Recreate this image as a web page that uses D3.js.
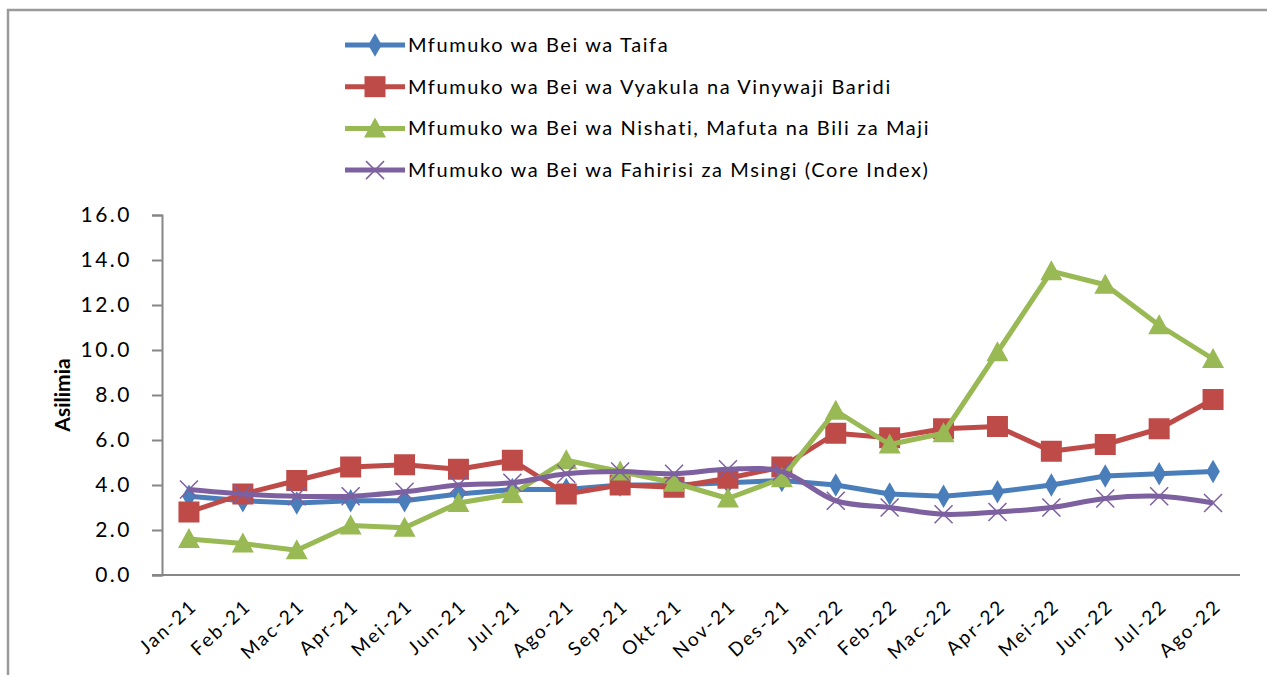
<html>
<head>
<meta charset="utf-8">
<script src="https://d3js.org/d3.v7.min.js"></script>
<style>
  body { margin: 0; background: #fff; }
  text { font-family: Lato, "Open Sans", sans-serif; fill: #000; }
</style>
</head>
<body>
<div id="chart"></div>
<script>
// months on the x axis
var months = ["Jan-21","Feb-21","Mac-21","Apr-21","Mei-21","Jun-21","Jul-21","Ago-21","Sep-21","Okt-21","Nov-21","Des-21",
              "Jan-22","Feb-22","Mac-22","Apr-22","Mei-22","Jun-22","Jul-22","Ago-22"];

// series values (percent)
var taifa   = [3.5,3.3,3.2,3.3,3.3,3.6,3.8,3.8,4.0,4.0,4.1,4.2,4.0,3.6,3.5,3.7,4.0,4.4,4.5,4.6];
var vyakula = [2.8,3.6,4.2,4.8,4.9,4.7,5.1,3.6,4.0,3.9,4.3,4.8,6.3,6.1,6.5,6.6,5.5,5.8,6.5,7.8];
var nishati = [1.6,1.4,1.1,2.2,2.1,3.2,3.6,5.1,4.6,4.1,3.4,4.3,7.3,5.8,6.3,9.9,13.5,12.9,11.1,9.6];
var core    = [3.8,3.6,3.5,3.5,3.7,4.0,4.1,4.5,4.6,4.5,4.7,4.6,3.3,3.0,2.7,2.8,3.0,3.4,3.5,3.2];

var yTicks = [0,2,4,6,8,10,12,14,16];

var seriesNames = ["Mfumuko wa Bei wa Taifa",
                   "Mfumuko wa Bei wa Vyakula na Vinywaji Baridi",
                   "Mfumuko wa Bei wa Nishati, Mafuta na Bili za Maji",
                   "Mfumuko wa Bei wa Fahirisi za Msingi (Core Index)"];

var width = 1267, height = 675;

var series = [
  { name: seriesNames[0], values: taifa,   color: "#4a7ebb", marker: "diamond",  curve: d3.curveLinear },
  { name: seriesNames[1], values: vyakula, color: "#be4b48", marker: "square",   curve: d3.curveLinear },
  { name: seriesNames[2], values: nishati, color: "#98b954", marker: "triangle", curve: d3.curveLinear },
  { name: seriesNames[3], values: core,    color: "#7d60a0", marker: "cross",    curve: d3.curveCatmullRom }
];

var svg = d3.select("#chart")
  .append("svg")
  .attr("width", width)
  .attr("height", height);

// outer frame (only top and left edges show)
svg.append("path")
  .attr("d", "M8,700V10H1267")
  .attr("fill", "none")
  .attr("stroke", "#9a9a9a")
  .attr("stroke-width", 2.5);

var x = d3.scaleBand()
  .domain(months)
  .range([162, 1240]);

var y = d3.scaleLinear()
  .domain([0, 16])
  .range([575, 215]);

function cx(i) { return x(months[i]) + x.bandwidth() / 2; }

// y axis
var yAxis = svg.append("g")
  .attr("transform", "translate(162,0)")
  .call(d3.axisLeft(y).tickValues(yTicks).tickSize(10).tickPadding(20)
        .tickFormat(d3.format(".1f")));
yAxis.selectAll("path, line").attr("stroke", "#868686").attr("stroke-width", 2);
yAxis.selectAll("text")
  .style("font-size", "21px")
  .style("letter-spacing", "2.5px")
  .attr("fill", "#000");

// x axis
var xAxis = svg.append("g")
  .attr("transform", "translate(0,575)")
  .call(d3.axisBottom(x).tickSize(0).tickPadding(0));
xAxis.select("path").attr("d", "M152,0H1240").attr("stroke", "#868686").attr("stroke-width", 2);
xAxis.selectAll("text")
  .style("font-size", "19px")
  .style("letter-spacing", "2.2px")
  .attr("fill", "#000")
  .attr("text-anchor", "end")
  .attr("dy", "0.35em")
  .attr("transform", "translate(5,28) rotate(-42)");

// y title
svg.append("text")
  .attr("transform", "translate(70,395) rotate(-90)")
  .attr("text-anchor", "middle")
  .style("font-size", "21px")
  .style("font-weight", "bold")
  .text("Asilimia");

function drawMarker(g, type, color, px, py) {
  if (type === "diamond") {
    g.append("path").attr("d", d3.symbol(d3.symbolDiamond, 160)())
      .attr("transform", "translate(" + px + "," + py + ")").attr("fill", color);
  } else if (type === "square") {
    g.append("rect").attr("x", px - 10.5).attr("y", py - 10.5)
      .attr("width", 21).attr("height", 21).attr("fill", color);
  } else if (type === "triangle") {
    g.append("path").attr("d", "M0,-11L11,9L-11,9Z")
      .attr("transform", "translate(" + px + "," + py + ")").attr("fill", color);
  } else {
    g.append("path").attr("d", "M-9,-9L9,9M-9,9L9,-9")
      .attr("transform", "translate(" + px + "," + py + ")")
      .attr("stroke", color).attr("stroke-width", 1.5).attr("fill", "none");
  }
}

// lines and markers
series.forEach(function(s) {
  var line = d3.line()
    .x(function(d, i) { return cx(i); })
    .y(function(d) { return y(d); })
    .curve(s.curve);
  svg.append("path")
    .datum(s.values)
    .attr("fill", "none")
    .attr("stroke", s.color)
    .attr("stroke-width", 5)
    .attr("stroke-linejoin", "round")
    .attr("d", line);
  var g = svg.append("g");
  s.values.forEach(function(v, i) { drawMarker(g, s.marker, s.color, cx(i), y(v)); });
});

// legend
var legend = svg.append("g");
series.forEach(function(s, i) {
  var ly = 45 + i * 41.7;
  legend.append("line")
    .attr("x1", 345).attr("x2", 405).attr("y1", ly).attr("y2", ly)
    .attr("stroke", s.color).attr("stroke-width", 5);
  drawMarker(legend, s.marker, s.color, 375, ly);
  legend.append("text")
    .attr("x", 408).attr("y", ly)
    .attr("dy", "0.35em")
    .style("font-size", "20px")
    .style("letter-spacing", "1.6px")
    .text(s.name);
});
</script>
</body>
</html>
